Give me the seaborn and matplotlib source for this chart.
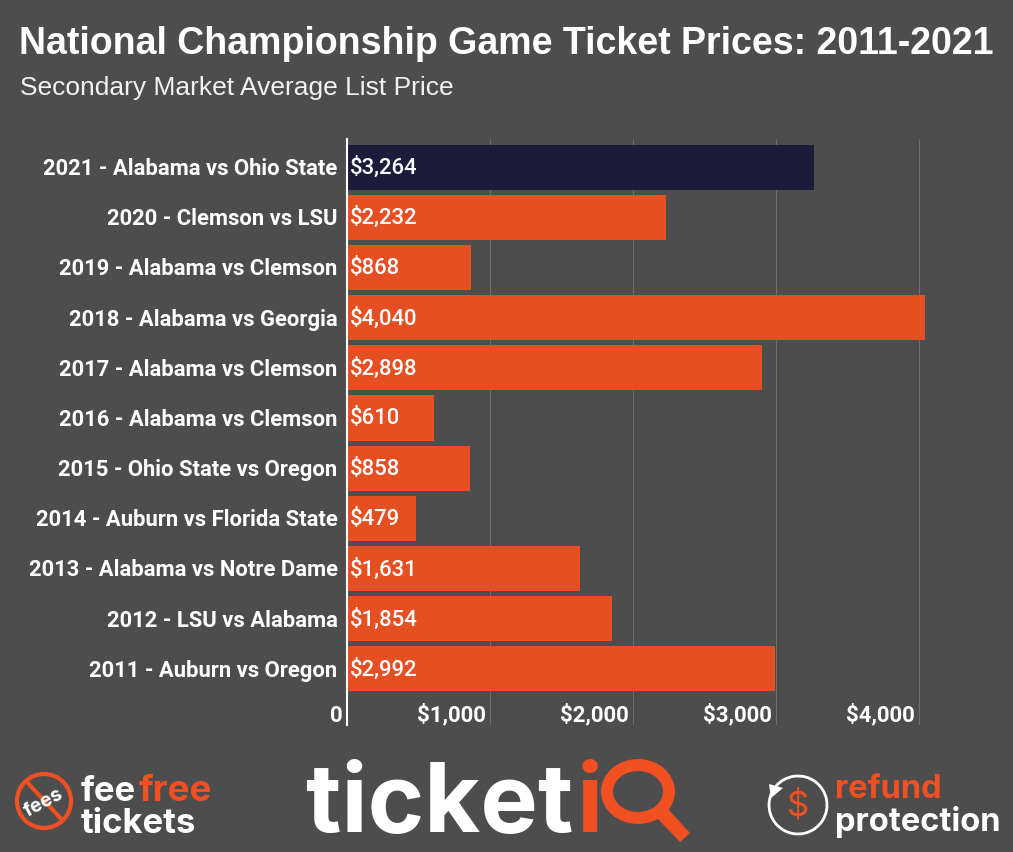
import matplotlib
matplotlib.use("Agg")
import matplotlib.pyplot as plt
from matplotlib.patches import Circle, Polygon, Arc, Ellipse
from matplotlib.transforms import ScaledTranslation
import seaborn as sns
import pandas as pd

categories = ["2021 - Alabama vs Ohio State", "2020 - Clemson vs LSU", "2019 - Alabama vs Clemson",
              "2018 - Alabama vs Georgia", "2017 - Alabama vs Clemson", "2016 - Alabama vs Clemson",
              "2015 - Ohio State vs Oregon", "2014 - Auburn vs Florida State", "2013 - Alabama vs Notre Dame",
              "2012 - LSU vs Alabama", "2011 - Auburn vs Oregon"]
prices = [3264, 2232, 868, 4040, 2898, 610, 858, 479, 1631, 1854, 2992]
groups = ["current"] + ["past"] * 10
tick_values = [0, 1000, 2000, 3000, 4000]
tick_labels = ["0", "$1,000", "$2,000", "$3,000", "$4,000"]

BG = "#4d4d4d"; ORANGE = "#e54f22"; NAVY = "#1c1b3a"; LOGO = "#f15023"
W, H = 1013, 853
sns.set_theme(style="dark", rc={"axes.facecolor": BG, "figure.facecolor": BG})
plt.rcParams["font.family"] = ["Roboto", "DejaVu Sans"]

fig = plt.figure(figsize=(W / 100, H / 100), dpi=100, facecolor=BG)
L, R, T, B = 347, 1000, 140, 726
ax = fig.add_axes([L / W, 1 - B / H, (R - L) / W, (B - T) / H], facecolor=BG)
df = pd.DataFrame({"game": categories, "price": prices, "group": groups})
sns.barplot(data=df, x="price", y="game", hue="group", dodge=False, width=0.9,
            palette={"current": NAVY, "past": ORANGE}, legend=False, saturation=1, ax=ax, zorder=3,
            edgecolor="none", linewidth=0)
ax.set_xlim(0, (R - L) / 0.1431)
ax.set_ylim(11.12, -0.56)
ax.set_xlabel(""); ax.set_ylabel("")
ax.set_xticks(tick_values)
ax.set_xticklabels([])
ax.grid(axis="x", color="#6f6f6f", lw=0.72, zorder=0)
ax.grid(axis="y", visible=False)
for s in ["top", "right", "bottom"]:
    ax.spines[s].set_visible(False)
ax.spines["left"].set_color("white"); ax.spines["left"].set_linewidth(1.5); ax.spines["left"].set_zorder(5)
ax.tick_params(axis="y", length=0, pad=6.8, labelsize=15.8, labelcolor="white")
ax.tick_params(axis="x", length=0)
shift_up = ScaledTranslation(0, 1.5 / 100, fig.dpi_scale_trans)
for t in ax.get_yticklabels():
    t.set_fontweight("bold")
    t.set_transform(t.get_transform() + shift_up)
for v, lab in zip(tick_values, tick_labels):
    ax.annotate(lab, (v, 0), xycoords=("data", "axes fraction"), xytext=(-3.2, -0.5), textcoords="offset points",
                ha="right", va="bottom", color="white", fontsize=16, fontweight="bold")
for i, p in enumerate(prices):
    ax.annotate(f"${p:,}", (0, i), xytext=(2, 0), textcoords="offset points", ha="left", va="center",
                color="white", fontsize=15.9, fontweight="medium", zorder=6)

fig.text(19 / W, 1 - 44 / H, "National Championship Game Ticket Prices: 2011-2021", family="Liberation Sans",
         fontweight="bold", fontsize=27.0, color="white", va="center", ha="left")
fig.text(20 / W, 1 - 88 / H, "Secondary Market Average List Price", family="Liberation Sans",
         fontsize=19.0, color="#f2f2f2", va="center", ha="left")

# Logo footer, drawn in pixel coordinates
lg = fig.add_axes([0, 0, 1, 1], facecolor="none")
lg.set_xlim(0, W); lg.set_ylim(H, 0); lg.axis("off")
fam = ["Inter", "DejaVu Sans"]
lg.add_patch(Circle((44, 802), 27, fill=False, ec=LOGO, lw=3))
lg.plot([26, 63], [782, 822], color=LOGO, lw=3, solid_capstyle="butt")
lg.text(44, 803, "fees", color="white", fontsize=14, fontweight="bold", family=fam, rotation=28, ha="center", va="center")
lg.text(81, 792, "fee", color="white", fontsize=25, fontweight="bold", family=fam, ha="left", va="center")
lg.text(139, 792, "free", color=LOGO, fontsize=26.5, fontweight="bold", family=fam, ha="left", va="center")
lg.text(81, 824, "tickets", color="white", fontsize=25, fontweight="bold", family=fam, ha="left", va="center")

lg.text(306, 832, "ticket", color="white", fontsize=69.5, fontweight="bold", family=fam, ha="left", va="baseline")
lg.text(577, 832, "i", color=LOGO, fontsize=69.5, fontweight="bold", family=fam, ha="left", va="baseline")
lg.add_patch(Ellipse((638, 792.5), 62, 53, fill=False, ec=LOGO, lw=8.6))
lg.add_patch(Polygon([[656, 818], [668, 810], [690, 834], [680, 843]], closed=True, fc=LOGO, ec="none"))

lg.add_patch(Arc((798, 806), 58, 58, theta1=-140, theta2=205, ec="white", lw=2))
lg.add_patch(Polygon([[769, 785], [783, 789], [771, 799]], closed=True, fc="white", ec="none"))
lg.text(798, 806, "$", color=LOGO, fontsize=25, family=fam, ha="center", va="center")
lg.text(835, 790, "refund", color=LOGO, fontsize=23.5, fontweight="bold", family=fam, ha="left", va="center")
lg.text(835, 822, "protection", color="white", fontsize=23.5, fontweight="bold", family=fam, ha="left", va="center")

fig.savefig("out.png", dpi=100, facecolor=BG)
